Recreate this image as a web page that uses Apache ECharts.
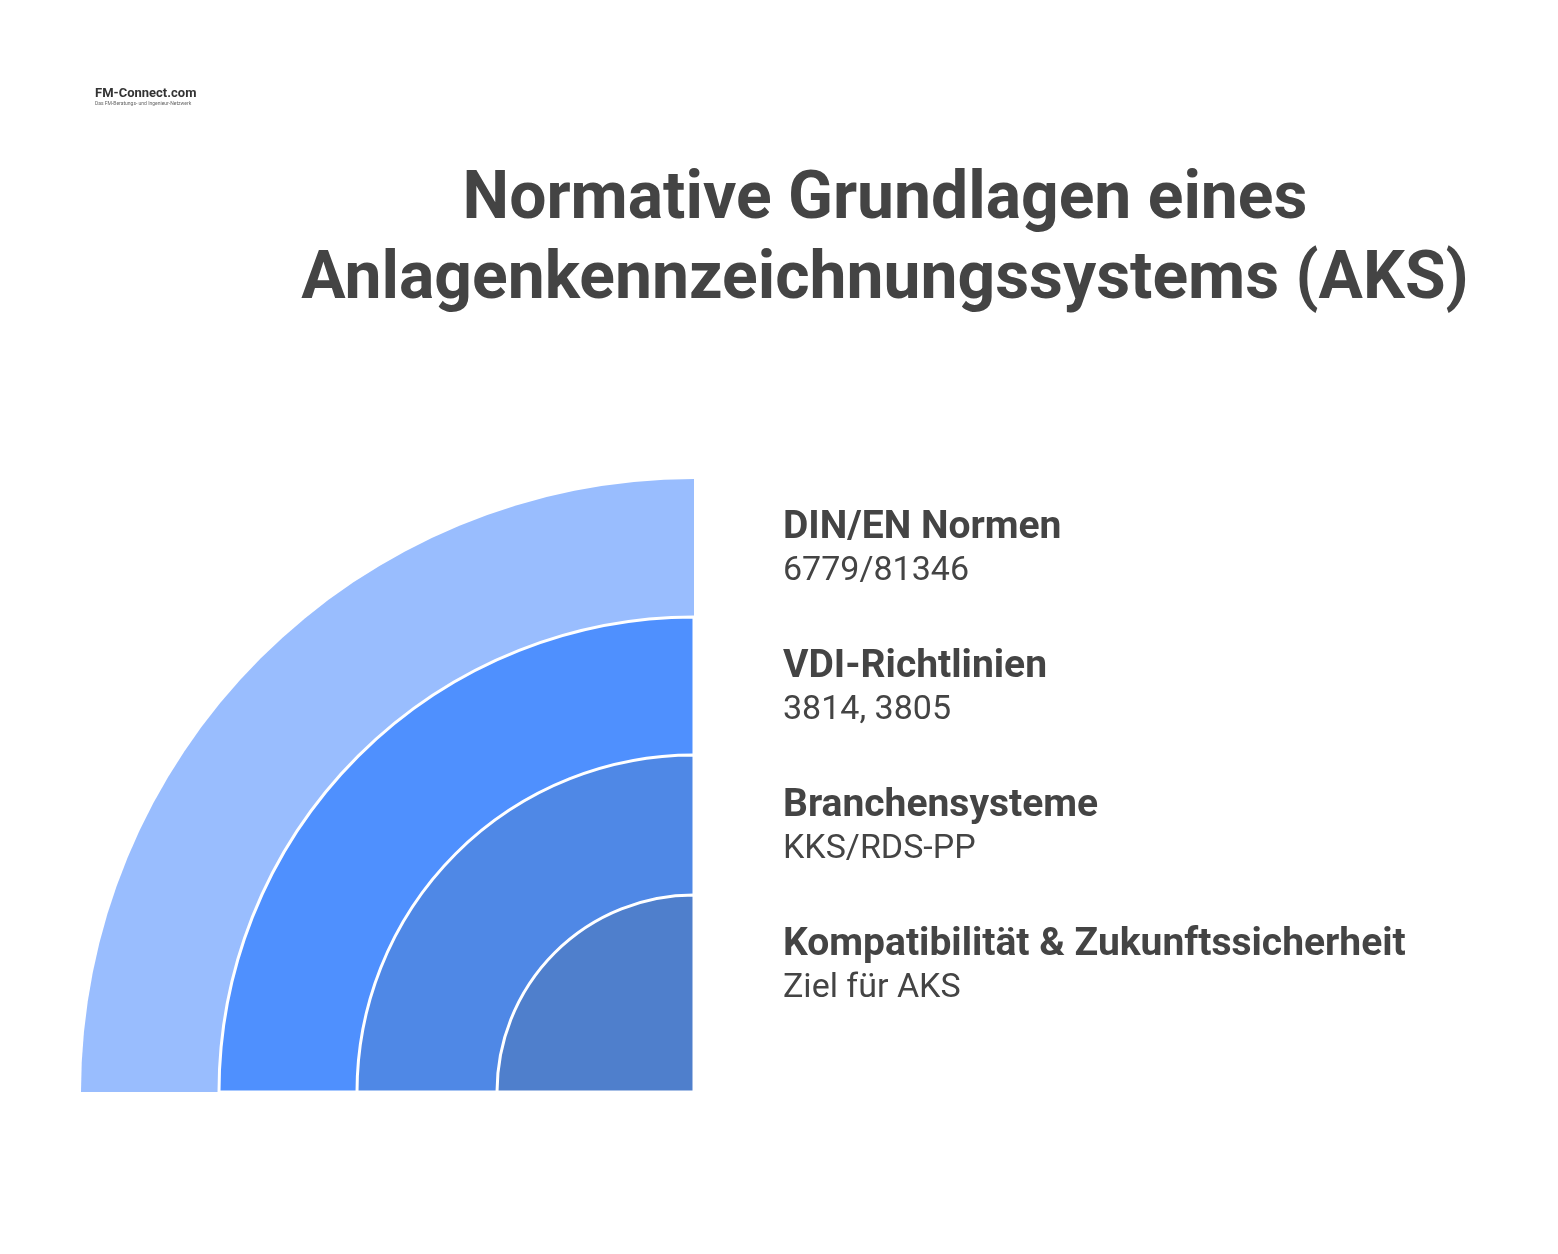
<!DOCTYPE html>
<html><head><meta charset="utf-8">
<script src="https://cdn.jsdelivr.net/npm/echarts@6/dist/echarts.min.js"></script>
<style>html,body{margin:0;padding:0;background:#fff}#c{width:1558px;height:1254px}</style>
</head><body><div id="c"></div>
<script>
const categories = ['DIN/EN Normen','VDI-Richtlinien','Branchensysteme','Kompatibilität & Zukunftssicherheit'];
const subtitles = ['6779/81346','3814, 3805','KKS/RDS-PP','Ziel für AKS'];
const ringRadii = [613, 475, 337, 197];
const colors = ['#99BDFE','#4F90FE','#4F88E6','#4F7FCC'];
const titleLines = ['Normative Grundlagen eines','Anlagenkennzeichnungssystems (AKS)'];

const chart = echarts.init(document.getElementById('c'));
const series = categories.map((name, i) => ({
  type: 'pie', silent: true, center: [694, 1092],
  radius: [0, ringRadii[i]], startAngle: 180, clockwise: true,
  label: {show: false}, labelLine: {show: false}, z: 2 + i,
  data: [
    {value: 1, name, itemStyle: {color: colors[i], borderColor: '#fff', borderWidth: i === 0 ? 0 : 3}},
    {value: 3, name: '', itemStyle: {color: 'transparent'}}
  ]
}));
const graphic = [];
titleLines.forEach((t, i) => graphic.push({type: 'text', x: 885, y: 201 + i * 80,
  style: {text: t, font: 'bold 66px Roboto', fill: '#444', align: 'center', verticalAlign: 'middle'}}));
categories.forEach((c, i) => {
  graphic.push({type: 'text', x: 783, y: 528 + i * 139, style: {text: c, font: 'bold 39px Roboto', fill: '#444', verticalAlign: 'middle'}});
  graphic.push({type: 'text', x: 783, y: 571 + i * 139, style: {text: subtitles[i], font: '34px Roboto', fill: '#444', verticalAlign: 'middle'}});
});
graphic.push({type: 'text', x: 95, y: 94, style: {text: 'FM-Connect.com', font: 'bold 13px Roboto', fill: '#333', verticalAlign: 'middle'}});
graphic.push({type: 'text', x: 95, y: 104, style: {text: 'Das FM-Beratungs- und Ingenieur-Netzwerk', font: '5px Roboto', fill: '#666', verticalAlign: 'middle'}});
chart.setOption({animation: false, series, graphic});
</script></body></html>
